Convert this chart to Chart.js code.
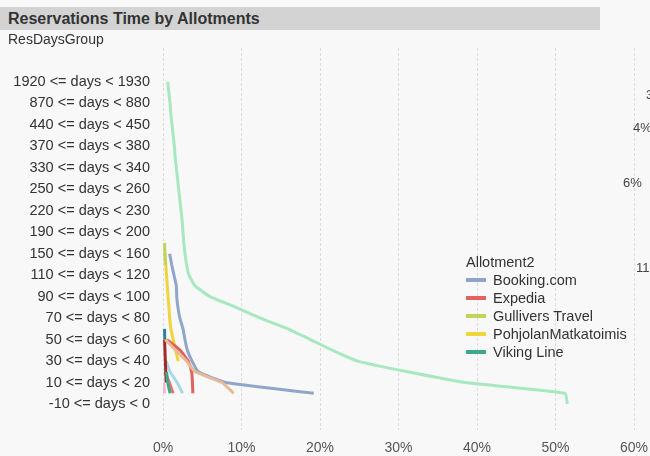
<!doctype html>
<html lang="en">
<head>
<meta charset="utf-8" />
<title>Reservations Time by Allotments</title>
<script src="https://cdn.jsdelivr.net/npm/chart.js@4"></script>
<style>
  body { margin: 0; background: #f8f8f8; font-family: "Liberation Sans", Arial, sans-serif; color: #333; }
  #wrap { position: relative; width: 650px; height: 456px; overflow: hidden; }
  canvas { position: absolute; left: 0; top: 0; }
  .abs { position: absolute; white-space: nowrap; }
  #title { left: 0; top: 7px; width: 600px; height: 23px; background: #d3d3d3; font-weight: bold; font-size: 16px; line-height: 23px; padding-left: 8px; box-sizing: border-box; color: #333; }
  #dim { left: 8px; top: 31px; font-size: 14px; line-height: 16px; }
  #legend { left: 466px; top: 253px; font-size: 14.5px; line-height: 18px; }
  #legend .item { display: flex; align-items: center; }
  #legend .sw { width: 20px; height: 4px; margin-right: 7px; }
  .frag { font-size: 13px; color: #444; line-height: 14px; }
</style>
</head>
<body>
<div id="wrap">
  <canvas id="chart" width="650" height="456"></canvas>
  <div class="abs" id="title">Reservations Time by Allotments</div>
  <div class="abs" id="dim">ResDaysGroup</div>
  <div class="abs" id="legend"></div>
  <div class="abs frag" style="left:646px;top:88px">3</div>
  <div class="abs frag" style="left:633px;top:121px">4%</div>
  <div class="abs frag" style="left:623px;top:176px">6%</div>
  <div class="abs frag" style="left:636px;top:261px">11</div>
</div>
<script>
// y categories, bottom to top (tick value = index)
const categories = [
  "-10 <= days < 0", "10 <= days < 20", "30 <= days < 40", "50 <= days < 60",
  "70 <= days < 80", "90 <= days < 100", "110 <= days < 120", "150 <= days < 160",
  "190 <= days < 200", "220 <= days < 230", "250 <= days < 260", "330 <= days < 340",
  "370 <= days < 380", "440 <= days < 450", "870 <= days < 880", "1920 <= days < 1930",
];
// row positions of the data (half steps between the labelled groups), top to bottom
const rowPos = [15, 14.5, 14, 13.5, 13, 12.5, 12, 11.5, 11, 10.5, 10, 9.5, 9, 8.5, 8, 7.5,
                7, 6.5, 6, 5.5, 5, 4.5, 4, 3.5, 3, 2.5, 2, 1.5, 1, 0.5, 0];
const xTicks = [0, 10, 20, 30, 40, 50, 60];
const _ = null;

// share of reservations (%) per row, aligned with rowPos
const booking = [_, _, _, _, _, _, _, _, _, _, _, _, _, _, _, _,
  0.85, 1.1, 1.4, 1.7, 1.75, 1.9, 2.15, 2.55, 2.8, 3.1, 3.7, 4.5, 8.0, 19.2, _];
const expedia = [_, _, _, _, _, _, _, _, _, _, _, _, _, _, _, _,
  _, _, _, _, _, _, _, _, 0.5, 2.2, 3.2, 3.65, 3.75, 3.8, _];
const gullivers = [_, _, _, _, _, _, _, _, _, _, _, _, _, _, _, 0.2,
  0.25, 0.3, _, _, _, _, _, _, _, _, _, _, _, _, _];
const pohjolan = [_, _, _, _, _, _, _, _, _, _, _, _, _, _, _, _,
  0.25, 0.35, 0.45, 0.55, 0.65, 0.75, 0.85, 1.0, 1.3, 1.6, 1.95, _, _, _, _];
const vikingLine = [_, _, _, _, _, _, _, _, _, _, _, _, _, _, _, _,
  _, _, _, _, _, _, _, _, _, _, _, 0.45, 0.6, 0.9, _];
const darkRed = [_, _, _, _, _, _, _, _, _, _, _, _, _, _, _, _,
  _, _, _, _, _, _, _, _, 0.2, 0.25, 0.3, 0.35, 0.4, _, _];
const lightBlue = [_, _, _, _, _, _, _, _, _, _, _, _, _, _, _, _,
  _, _, _, _, _, _, _, _, _, _, 0.4, 0.9, 1.8, 2.5, _];
const peach = [_, _, _, _, _, _, _, _, _, _, _, _, _, _, _, _,
  _, _, _, _, _, _, _, _, 0.3, 1.6, 3.0, 4.1, 7.5, 9.0, _];
const mint = [0.6, 0.75, 0.9, 1.0, 1.15, 1.3, 1.45, 1.55, 1.7, 1.85, 2.0, 2.15, 2.3, 2.45, 2.55, 2.65,
  2.8, 3.0, 3.3, 4.1, 6.0, 9.3, 12.4, 15.9, 18.8, 21.6, 24.8, 31.2, 38.5, 51.2, 51.5];
const steel = [_, _, _, _, _, _, _, _, _, _, _, _, _, _, _, _,
  _, _, _, _, _, _, _, 0.2, 0.22, _, _, _, _, _, _];
const salmon = [_, _, _, _, _, _, _, _, _, _, _, _, _, _, _, _,
  _, _, _, _, _, _, _, _, _, _, _, 0.25, 0.8, 1.3, _];
const pink = [_, _, _, _, _, _, _, _, _, _, _, _, _, _, _, _,
  _, _, _, _, _, _, _, _, _, _, _, _, 0.1, 0.2, _];

// first entry is drawn on top
const series = [
  { label: "", values: peach, color: "#e9ba98" },
  { label: "Booking.com", values: booking, color: "#8fa6c9", legend: true },
  { label: "Expedia", values: expedia, color: "#e0625a", legend: true },
  { label: "Gullivers Travel", values: gullivers, color: "#c3d35a", legend: true },
  { label: "PohjolanMatkatoimis", values: pohjolan, color: "#efd43a", legend: true },
  { label: "Viking Line", values: vikingLine, color: "#3fa88a", legend: true },
  { label: "", values: darkRed, color: "#a52a2a" },
  { label: "", values: lightBlue, color: "#a8d8e8" },
  { label: "", values: mint, color: "#a8e8c0" },
  { label: "", values: steel, color: "#2e7fa0" },
  { label: "", values: salmon, color: "#ea7468" },
  { label: "", values: pink, color: "#f2b8cc" },
];

const legendEl = document.getElementById("legend");
legendEl.innerHTML = '<div>Allotment2</div>' + series.filter(s => s.legend).map(s =>
  '<div class="item"><span class="sw" style="background:' + s.color + '"></span>' + s.label + '</div>').join("");

const tickFont = { family: "'Liberation Sans', Arial, sans-serif", size: 14.5 };

new Chart(document.getElementById("chart"), {
  type: "line",
  data: {
    datasets: series.map(s => ({
      label: s.label,
      data: s.values.map((v, i) => (v === null ? null : { x: v, y: rowPos[i] })).filter(p => p),
      borderColor: s.color,
      backgroundColor: s.color,
      borderWidth: 3,
      pointRadius: 0,
      tension: 0.15,
      fill: false,
    })),
  },
  options: {
    responsive: false,
    animation: false,
    devicePixelRatio: 1,
    layout: { padding: { top: 48, right: 16, left: 0, bottom: 0 } },
    plugins: { legend: { display: false }, tooltip: { enabled: false } },
    scales: {
      x: {
        type: "linear", min: 0, max: 60,
        afterBuildTicks: s => { s.ticks = xTicks.map(v => ({ value: v })); },
        ticks: { callback: v => v + "%", font: { ...tickFont, size: 14 }, color: "#555", padding: 10 },
        grid: { color: "#dcdcdc", drawTicks: false },
        border: { display: false, dash: [3, 2] },
        afterFit: s => { s.height = 26; s.paddingLeft = 0; s.paddingRight = 0; },
      },
      y: {
        type: "linear", min: -1.21, max: 16.58,
        afterBuildTicks: s => { s.ticks = categories.map((c, i) => ({ value: i })); },
        ticks: { autoSkip: false, callback: v => categories[v], font: tickFont, color: "#333", padding: 13 },
        grid: { display: false, drawTicks: false },
        border: { display: false },
        afterFit: s => { s.width = 163; s.paddingTop = 0; s.paddingBottom = 0; },
      },
    },
  },
});
</script>
</body>
</html>
